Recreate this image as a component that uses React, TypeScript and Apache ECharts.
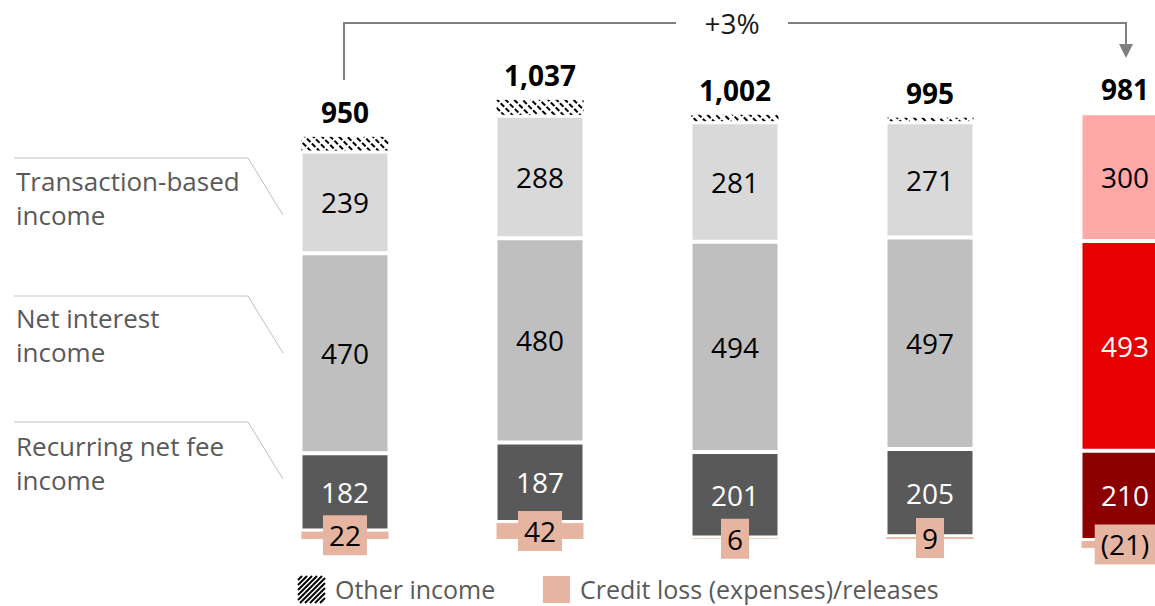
import React, { useEffect, useRef } from "react";
import * as echarts from "echarts";

const categories = ["Q1", "Q2", "Q3", "Q4", "Q5"];
const creditLoss = [22, 42, 6, 9, -21];
const recurringFee = [182, 187, 201, 205, 210];
const netInterest = [470, 480, 494, 497, 493];
const transactionBased = [239, 288, 281, 271, 300];
const otherIncome = [37, 40, 20, 13, 0];
const totals = ["950", "1,037", "1,002", "995", "981"];
const changeLabel = "+3%";

const FONT = "'Open Sans', 'Noto Sans', sans-serif";

const greys = { recurring: "#595959", nii: "#BFBFBF", trans: "#D9D9D9" };
const reds = { recurring: "#8C0000", nii: "#E60000", trans: "#FFA8A8" };
const creditColor = "#E6B5A1";

function hatchLines(x0: number, y0: number, s: number, step: number) {
  const out: any[] = [];
  for (let d = step - 1; d < 2 * s; d += step) {
    const x1 = x0 + Math.max(0, d - s);
    const y1 = y0 + Math.min(d, s);
    const x2 = x0 + Math.min(d, s);
    const y2 = y0 + Math.max(0, d - s);
    out.push({
      type: "line",
      shape: { x1, y1, x2, y2 },
      style: { stroke: "#000", lineWidth: 2 },
      silent: true,
    });
  }
  return out;
}

export default function App() {
  const ref = useRef<HTMLDivElement>(null);
  useEffect(() => {
    if (!ref.current) return;
    const chart = echarts.init(ref.current, null, { renderer: "svg" });
    const last = categories.length - 1;
    const seg = (vals: number[], key: "recurring" | "nii" | "trans", dark: boolean) =>
      vals.map((v, i) => {
        const isLast = i === last;
        const col = isLast ? reds[key] : greys[key];
        const labCol = isLast ? (key === "trans" ? "#000" : "#fff") : dark ? "#fff" : "#000";
        return { value: v, itemStyle: { color: col }, label: { color: labCol } };
      });
    const common = {
      type: "bar",
      stack: "total",
      barWidth: 89,
      itemStyle: { borderColor: "#fff", borderWidth: 2 },
    };
    const option: any = {
      animation: false,
      grid: { left: 247.5, width: 975, top: 72, bottom: 40.5 },
      xAxis: { type: "category", data: categories, show: false },
      yAxis: { type: "value", min: -60, max: 1100, show: false },
      series: [
        {
          ...common,
          name: "Credit loss (expenses)/releases",
          data: creditLoss,
          itemStyle: { color: creditColor, borderColor: "#fff", borderWidth: 1 },
          label: {
            show: true,
            position: "inside",
            formatter: (p: any) => (p.value < 0 ? `(${-p.value})` : `${p.value}`),
            backgroundColor: creditColor,
            padding: [4, 6],
            fontSize: 28,
            lineHeight: 32,
            fontFamily: FONT,
            color: "#000",
          },
          z: 3,
        },
        {
          ...common,
          name: "Recurring net fee income",
          data: seg(recurringFee, "recurring", true),
          label: { show: true, position: "inside", fontSize: 28, fontFamily: FONT },
          z: 2,
        },
        {
          ...common,
          name: "Net interest income",
          data: seg(netInterest, "nii", false),
          label: { show: true, position: "inside", fontSize: 28, fontFamily: FONT },
          z: 2,
        },
        {
          ...common,
          name: "Transaction-based income",
          data: seg(transactionBased, "trans", false),
          label: { show: true, position: "inside", fontSize: 28, fontFamily: FONT },
          z: 2,
        },
        {
          ...common,
          name: "Other income",
          data: otherIncome,
          itemStyle: {
            color: "#fff",
            borderColor: "#fff",
            borderWidth: 1,
            decal: {
              symbol: "rect",
              symbolSize: 1,
              color: "#000",
              backgroundColor: "#fff",
              dashArrayX: [5, 2],
              dashArrayY: [2, 4],
              rotation: Math.PI / 4,
            },
          },
          label: {
            show: true,
            position: "top",
            distance: 10,
            formatter: (p: any) => totals[p.dataIndex],
            fontSize: 28,
            fontWeight: "bold",
            fontFamily: FONT,
            color: "#000",
          },
          z: 2,
        },
      ],
      graphic: [
        // left labels with connectors
        { type: "polyline", shape: { points: [[14, 158], [248, 158], [283, 215]] }, style: { stroke: "#BFBFBF", lineWidth: 1, fill: null } },
        { type: "polyline", shape: { points: [[14, 296], [248, 296], [283, 353]] }, style: { stroke: "#BFBFBF", lineWidth: 1, fill: null } },
        { type: "polyline", shape: { points: [[14, 422], [248, 422], [283, 479]] }, style: { stroke: "#BFBFBF", lineWidth: 1, fill: null } },
        { type: "text", x: 16, y: 164, style: { text: "Transaction-based\nincome", font: `26px ${FONT}`, fill: "#595959", lineHeight: 34 } },
        { type: "text", x: 16, y: 301, style: { text: "Net interest\nincome", font: `26px ${FONT}`, fill: "#595959", lineHeight: 34 } },
        { type: "text", x: 16, y: 429, style: { text: "Recurring net fee\nincome", font: `26px ${FONT}`, fill: "#595959", lineHeight: 34 } },
        // top arrow
        { type: "polyline", shape: { points: [[344, 80], [344, 23], [676, 23]] }, style: { stroke: "#808080", lineWidth: 2, fill: null } },
        { type: "polyline", shape: { points: [[788, 23], [1126, 23], [1126, 45]] }, style: { stroke: "#808080", lineWidth: 2, fill: null } },
        { type: "polygon", shape: { points: [[1119, 44], [1133, 44], [1126, 58]] }, style: { fill: "#808080" } },
        { type: "text", x: 732, y: 23, style: { text: changeLabel, font: `28px ${FONT}`, fill: "#1a1a1a", align: "center", verticalAlign: "middle" } },
        // legend
        ...hatchLines(298, 576, 27, 5),
        { type: "text", x: 335, y: 589, style: { text: "Other income", font: `25px ${FONT}`, fill: "#595959", verticalAlign: "middle" } },
        { type: "rect", shape: { x: 543, y: 576, width: 27, height: 27 }, style: { fill: creditColor } },
        { type: "text", x: 580, y: 589, style: { text: "Credit loss (expenses)/releases", font: `25px ${FONT}`, fill: "#595959", verticalAlign: "middle" } },
      ],
    };
    chart.setOption(option);
    return () => chart.dispose();
  }, []);
  return (
    <div style={{ position: "absolute", left: 0, top: 0, width: 1155, height: 606, overflow: "hidden", background: "#fff" }}>
      <div ref={ref} style={{ width: 1230, height: 606 }} />
    </div>
  );
}
